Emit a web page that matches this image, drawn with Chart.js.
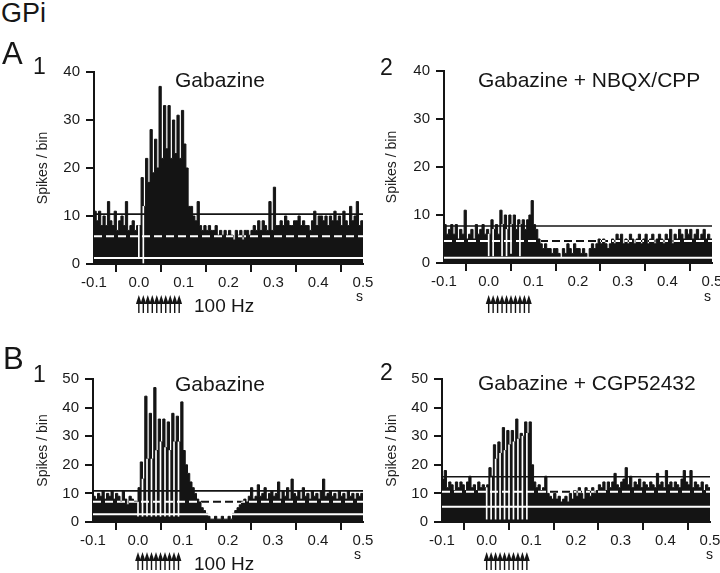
<!DOCTYPE html>
<html><head><meta charset="utf-8">
<script src="https://cdn.jsdelivr.net/npm/chart.js@4.4.1/dist/chart.umd.min.js"></script>
<style>
body{margin:0;background:#fff;width:720px;height:573px;position:relative;overflow:hidden;font-family:"Liberation Sans",Arial,sans-serif;color:#161616}
canvas{position:absolute;z-index:1}
.t{position:absolute;white-space:nowrap;line-height:1;z-index:2}
</style></head><body>
<div class="t" style="left:1px;top:0px;font-size:27px">GPi</div>
<div class="t" style="left:2px;top:38px;font-size:31px">A</div>
<div class="t" style="left:33px;top:55px;font-size:23px">1</div>
<div class="t" style="left:380px;top:56px;font-size:23px">2</div>
<div class="t" style="left:3px;top:343px;font-size:31px">B</div>
<div class="t" style="left:33px;top:363px;font-size:23px">1</div>
<div class="t" style="left:380px;top:361px;font-size:23px">2</div>
<div class="t" style="left:175px;top:69px;font-size:21px">Gabazine</div>
<div class="t" style="left:478px;top:69px;font-size:21px">Gabazine + NBQX/CPP</div>
<div class="t" style="left:175px;top:373px;font-size:21px">Gabazine</div>
<div class="t" style="left:478px;top:372px;font-size:21px">Gabazine + CGP52432</div>
<div class="t" style="left:194px;top:296px;font-size:19px">100 Hz</div>
<div class="t" style="left:194px;top:554px;font-size:19px">100 Hz</div>
<div class="t" style="left:356px;top:289px;font-size:14px">s</div>
<div class="t" style="left:704px;top:289px;font-size:14px">s</div>
<div class="t" style="left:354px;top:547px;font-size:14px">s</div>
<div class="t" style="left:706px;top:547px;font-size:14px">s</div>
<canvas id="cA1" width="375" height="253" style="left:0;top:62px"></canvas>
<canvas id="cA2" width="345" height="253" style="left:375px;top:62px"></canvas>
<canvas id="cB1" width="375" height="203" style="left:0;top:370px"></canvas>
<canvas id="cB2" width="345" height="203" style="left:375px;top:370px"></canvas>
<script>
// ---- data ----
const binStart = -0.1;
const binWidth = 0.005;
const xMin = -0.1, xMax = 0.5;
const xTickLabels = ['-0.1','0.0','0.1','0.2','0.3','0.4','0.5'];
const stimTimes = [0, 0.01, 0.02, 0.03, 0.04, 0.05, 0.06, 0.07, 0.08, 0.09];

const countsA1 = [
  11, 9, 11, 8, 10, 8, 13, 9, 8, 11,
  7, 9, 10, 8, 13, 7, 8, 9, 7, 8,
  8, 18, 12, 22, 17, 28, 19, 26, 20, 37,
  22, 33, 24, 33, 22, 30, 23, 31, 22, 32,
  25, 20, 12, 12, 10, 9, 13, 8, 7, 8,
  7, 8, 7, 7, 8, 6, 7, 6, 7, 6,
  7, 6, 5, 7, 6, 7, 5, 7, 7, 6,
  7, 8, 7, 9, 7, 9, 8, 7, 13, 7,
  16, 8, 8, 9, 8, 10, 9, 8, 8, 9,
  9, 10, 8, 9, 8, 8, 7, 9, 11, 8,
  10, 10, 9, 10, 8, 10, 9, 11, 9, 10,
  8, 11, 9, 8, 12, 9, 10, 13, 8, 9
];
const countsA2 = [
  8, 6, 7, 8, 6, 8, 5, 7, 6, 11,
  5, 6, 7, 5, 8, 6, 7, 8, 6, 7,
  6, 9, 7, 8, 6, 11, 8, 10, 7, 10,
  8, 10, 7, 9, 8, 9, 7, 9, 10, 13,
  8, 7, 5, 4, 3, 4, 3, 3, 2, 3,
  3, 2, 1, 3, 2, 4, 3, 2, 4, 3,
  3, 2, 3, 2, 1, 3, 4, 3, 4, 5,
  4, 5, 4, 3, 4, 5, 4, 6, 5, 6,
  4, 5, 4, 6, 5, 4, 5, 6, 4, 5,
  6, 4, 5, 6, 4, 5, 6, 5, 4, 6,
  5, 7, 4, 6, 5, 7, 6, 5, 7, 6,
  7, 5, 6, 7, 5, 6, 7, 5, 6, 5
];
const countsB1 = [
  9, 8, 10, 9, 11, 8, 10, 9, 11, 8,
  10, 9, 7, 11, 8, 6, 9, 8, 7, 7,
  12, 21, 15, 44, 22, 38, 22, 47, 25, 36,
  28, 36, 26, 35, 25, 38, 28, 37, 28, 42,
  25, 20, 17, 14, 12, 10, 8, 7, 5, 4,
  3, 2, 1, 1, 2, 1, 1, 2, 1, 1,
  2, 1, 3, 4, 5, 6, 7, 8, 7, 9,
  12, 8, 9, 13, 9, 10, 12, 8, 10, 11,
  9, 10, 14, 8, 11, 9, 12, 8, 15, 10,
  9, 11, 8, 12, 9, 10, 8, 11, 9, 10,
  8, 11, 15, 9, 10, 11, 9, 10, 8, 11,
  9, 10, 8, 11, 9, 10, 8, 10, 9, 10
];
const countsB2 = [
  15, 18, 12, 14, 13, 11, 14, 12, 14, 13,
  11, 14, 16, 12, 13, 11, 14, 12, 13, 12,
  13, 19, 16, 27, 22, 28, 24, 33, 25, 32,
  27, 32, 28, 36, 29, 31, 30, 35, 31, 35,
  20, 14, 12, 13, 11, 12, 16, 10, 9, 8,
  10, 8, 9, 7, 8, 9, 7, 10, 8, 11,
  9, 12, 10, 8, 12, 11, 9, 12, 10, 11,
  13, 12, 14, 11, 14, 12, 14, 17, 13, 12,
  14, 15, 19, 13, 16, 12, 14, 13, 15, 12,
  14, 13, 12, 14, 13, 12, 17, 13, 14, 12,
  18, 13, 14, 12, 14, 13, 12, 15, 18, 14,
  13, 18, 12, 14, 13, 12, 14, 11, 13, 12
];
// horizontal reference levels: upper threshold, mean, lower threshold
const upperA1 = 10.4, meanA1 = 5.8, lowerA1 = 1.25;
const upperA2 = 7.7,  meanA2 = 4.6, lowerA2 = 1.1;
const upperB1 = 10.9, meanB1 = 7.1, lowerB1 = 2.7;
const upperB2 = 15.8, meanB2 = 10.6, lowerB2 = 5.35;
// count in the artifact bin at each stimulus time (null = not visible)
const gapsA1 = [1.5, 0, null, null, null, null, null, null, null, null];
const gapsA2 = [1.5, 1.5, null, 1.5, 1.5, 2, null, 1.5, null, null];
const gapsB1 = [2, 2, 2, 2, 2, 2, 2, 2, 2, 2];
const gapsB2 = [1, 1, 1, 1, 1, 1, 1, 1, 1, 1];

// ---- drawing ----
const FONT = '"Liberation Sans", Arial, sans-serif';
Chart.defaults.font.family = FONT;
const INK = '#141414';

const stimArrows = {
  id: 'stimArrows',
  afterDraw(chart, args, opts) {
    const ctx = chart.ctx, xs = chart.scales.x;
    ctx.save();
    ctx.fillStyle = INK;
    for (const t of stimTimes) {
      const x = xs.getPixelForValue(t);
      ctx.fillRect(x - 0.7, opts.top + 7, 1.4, opts.bottom - opts.top - 7);
      ctx.beginPath();
      ctx.moveTo(x, opts.top);
      ctx.lineTo(x + 2.9, opts.top + 9);
      ctx.lineTo(x - 2.9, opts.top + 9);
      ctx.closePath();
      ctx.fill();
    }
    ctx.restore();
  }
};

// per-dataset canvas compositing (white dashes only over the bars, black dashes only outside)
const compositing = {
  id: 'compositing',
  beforeDatasetDraw(chart, args) {
    const op = chart.data.datasets[args.index].composite;
    chart.ctx.save();
    if (op) chart.ctx.globalCompositeOperation = op;
  },
  afterDatasetDraw(chart) {
    chart.ctx.restore();
  }
};

function makeChart(id, p) {
  const n = p.counts.length;
  const hist = p.counts.map((c, i) => ({x: binStart + i * binWidth, y: c}));
  hist.push({x: binStart + n * binWidth, y: p.counts[n - 1]});
  const span = v => [{x: xMin, y: v}, {x: xMax, y: v}];
  const gapData = [];
  stimTimes.forEach((t, i) => {
    if (p.gaps[i] == null) return;
    const k = Math.round((t - binStart) / binWidth);
    const top = Math.min(p.counts[k - 1], p.counts[k]);
    if (top > p.gaps[i]) gapData.push({x: t, y: [p.gaps[i], top]});
  });
  const axisCommon = {
    grid: {display: true, drawOnChartArea: false, drawTicks: true, tickLength: 8, color: INK, lineWidth: 2},
    border: {display: true, color: INK, width: 2}
  };
  new Chart(document.getElementById(id), {
    type: 'line',
    data: {datasets: [
      {data: span(p.mean), borderColor: INK, borderWidth: 2, borderDash: [8, 4], pointRadius: 0, order: 0, composite: 'destination-over'},
      {data: span(p.mean), borderColor: '#fff', borderWidth: 2, borderDash: [8, 4], pointRadius: 0, order: 1, composite: 'source-atop'},
      {data: span(p.lower), borderColor: '#fff', borderWidth: 2, pointRadius: 0, order: 2},
      {data: span(p.upper), borderColor: INK, borderWidth: 1.6, pointRadius: 0, order: 3},
      {type: 'bar', data: gapData, backgroundColor: '#fff', barThickness: 1, borderWidth: 0, order: 4},
      {data: hist, stepped: true, fill: 'origin', backgroundColor: INK, borderColor: INK, borderWidth: 1, pointRadius: 0, order: 5}
    ]},
    options: {
      responsive: false, animation: false, devicePixelRatio: 1,
      layout: {padding: {left: 0, top: p.padTop, right: p.padRight, bottom: 0}},
      plugins: {legend: {display: false}, tooltip: {enabled: false}, stimArrows: {top: p.arrowTop, bottom: p.arrowBottom}},
      scales: {
        x: Object.assign({
          type: 'linear', min: xMin, max: xMax, offset: false,
          ticks: {stepSize: 0.1, autoSkip: false, maxRotation: 0, padding: 2, color: '#1a1a1a', font: {size: 15},
            callback: v => xTickLabels[Math.round((v - xMin) * 10)]},
          afterFit: s => { s.height = p.xH; s.paddingLeft = 0; s.paddingRight = 0; }
        }, axisCommon),
        y: Object.assign({
          type: 'linear', min: 0, max: p.yMax,
          ticks: {stepSize: 10, padding: 6, color: '#1a1a1a', font: {size: 15}},
          title: {display: true, text: 'Spikes / bin', color: '#222', font: {size: 14}, padding: {top: p.titlePad, bottom: 0}},
          afterFit: s => { s.width = p.yW; s.paddingTop = 0; s.paddingBottom = 0; }
        }, axisCommon)
      }
    },
    plugins: [compositing, stimArrows]
  });
}

makeChart('cA1', {counts: countsA1, upper: upperA1, mean: meanA1, lower: lowerA1, gaps: gapsA1, yMax: 40,
  padTop: 10, padRight: 12, yW: 94, xH: 51, titlePad: 34.6, arrowTop: 233, arrowBottom: 251});
makeChart('cA2', {counts: countsA2, upper: upperA2, mean: meanA2, lower: lowerA2, gaps: gapsA2, yMax: 40,
  padTop: 9, padRight: 8, yW: 69, xH: 52, titlePad: 8.6, arrowTop: 233, arrowBottom: 251});
makeChart('cB1', {counts: countsB1, upper: upperB1, mean: meanB1, lower: lowerB1, gaps: gapsB1, yMax: 50,
  padTop: 9, padRight: 12, yW: 93, xH: 51, titlePad: 34.6, arrowTop: 182, arrowBottom: 200});
makeChart('cB2', {counts: countsB2, upper: upperB2, mean: meanB2, lower: lowerB2, gaps: gapsB2, yMax: 50,
  padTop: 9, padRight: 10, yW: 67, xH: 51, titlePad: 8.6, arrowTop: 182, arrowBottom: 200});
</script>
</body></html>
